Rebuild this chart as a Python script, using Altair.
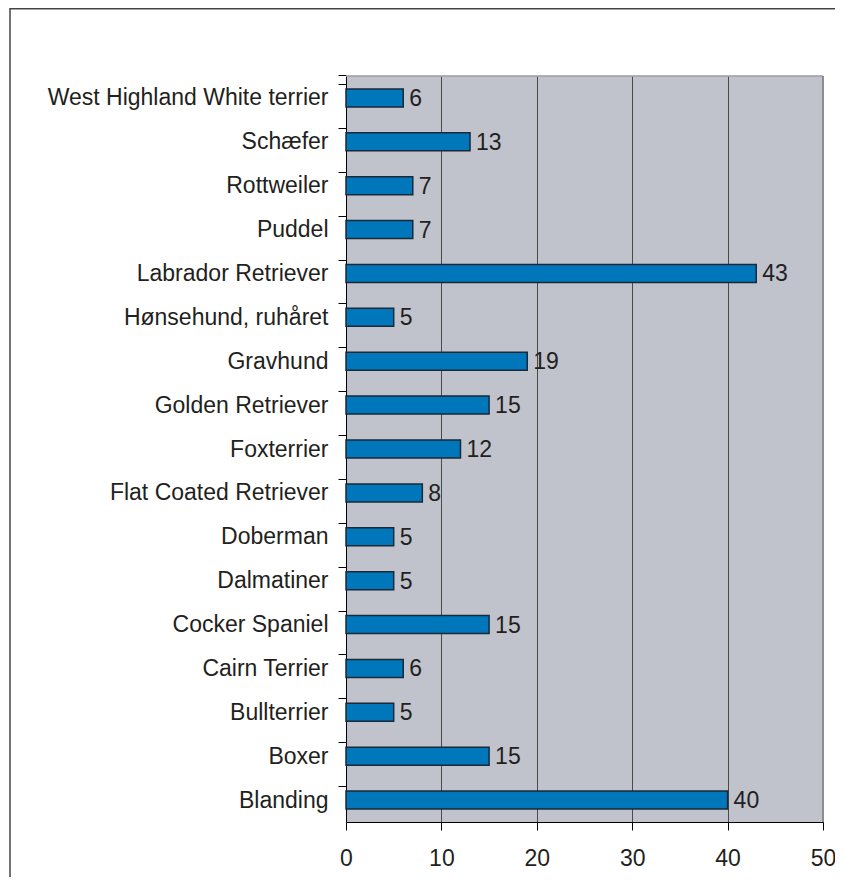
import altair as alt
import pandas as pd

breeds = ["West Highland White terrier", "Schæfer", "Rottweiler", "Puddel",
          "Labrador Retriever", "Hønsehund, ruhåret", "Gravhund", "Golden Retriever",
          "Foxterrier", "Flat Coated Retriever", "Doberman", "Dalmatiner",
          "Cocker Spaniel", "Cairn Terrier", "Bullterrier", "Boxer", "Blanding"]
counts = [6, 13, 7, 7, 43, 5, 19, 15, 12, 8, 5, 5, 15, 6, 5, 15, 40]
x_ticks = [0, 10, 20, 30, 40, 50]

df = pd.DataFrame({"breed": breeds, "count": counts})

FONT = "Liberation Sans"
TXT = "#231f20"
H = 746
HALF = H / len(breeds) / 2

y_enc = alt.Y("breed:N", sort=breeds, title=None,
              scale=alt.Scale(paddingInner=0.59, paddingOuter=0.295),
              axis=alt.Axis(tickOffset=-HALF + 8, labelOffset=HALF - 8, tickExtra=True,
                            tickSize=8, tickColor="#000",
                            domainColor="#000", labelFontSize=23, labelFont=FONT,
                            labelColor=TXT, labelPadding=10, grid=False,
                            labelLimit=400))
x_enc = alt.X("count:Q", title=None,
              scale=alt.Scale(domain=[0, 50], nice=False),
              axis=alt.Axis(values=x_ticks, tickSize=8, tickColor="#000",
                            domainColor="#000", labelFontSize=23, labelFont=FONT,
                            labelColor=TXT, labelPadding=17, grid=True,
                            labelFlush=False, labelOverlap=False,
                            gridColor="#4a4a4a", gridWidth=1))

bars = alt.Chart(df).mark_bar(color="#0077bb", stroke="#1a2838", strokeWidth=1.5).encode(
    x=x_enc, y=y_enc)
labels = alt.Chart(df).mark_text(align="left", baseline="middle", dx=6, dy=1,
                                 fontSize=23, font=FONT, color=TXT).encode(
    x="count:Q", y=alt.Y("breed:N", sort=breeds), text="count:Q")

one = pd.DataFrame({"a": [0]})
right_edge = alt.Chart(one).mark_rule(color="#8a8d94", strokeWidth=2).encode(
    x=alt.value(477), y=alt.value(0), y2=alt.value(H))
top_edge = alt.Chart(one).mark_rule(color="#9a9da4", strokeWidth=1.5).encode(
    x=alt.value(0), x2=alt.value(477), y=alt.value(0))
border_left = alt.Chart(one).mark_rule(color="#444", strokeWidth=1.5).encode(
    x=alt.value(-336), y=alt.value(-68), y2=alt.value(900))
border_top = alt.Chart(one).mark_rule(color="#444", strokeWidth=1.5).encode(
    x=alt.value(-336), x2=alt.value(700), y=alt.value(-67.3))

chart = alt.layer(bars, labels, right_edge, top_edge, border_left, border_top).properties(
    width=477, height=H,
    autosize=alt.AutoSizeParams(type="none"),
    padding={"left": 338, "top": 68, "right": 12, "bottom": 55},
    background="white",
).configure_view(fill="#c0c3cb", stroke=None)

chart.save("out.html", embed_options={"renderer": "svg", "actions": False})
